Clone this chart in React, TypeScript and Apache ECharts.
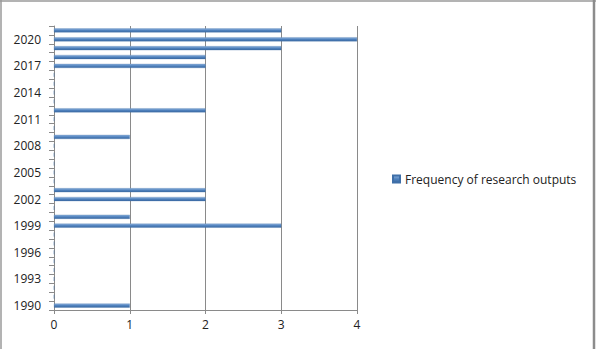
import React, { useEffect, useRef } from "react";
import * as echarts from "echarts";

const years: string[] = [
  "1990","1991","1992","1993","1994","1995","1996","1997","1998","1999",
  "2000","2001","2002","2003","2004","2005","2006","2007","2008","2009",
  "2010","2011","2012","2013","2014","2015","2016","2017","2018","2019",
  "2020","2021",
];
const frequency: number[] = [
  1,0,0,0,0,0,0,0,0,3,
  1,0,2,2,0,0,0,0,0,1,
  0,0,2,0,0,0,0,2,2,3,
  4,3,
];
const xTicks = { min: 0, max: 4, interval: 1 };
const seriesName = "Frequency of research outputs";

export default function App() {
  const ref = useRef<HTMLDivElement>(null);
  useEffect(() => {
    if (!ref.current) return;
    const chart = echarts.init(ref.current, null, { renderer: "svg" });
    const font = "'Open Sans', 'Noto Sans', sans-serif";
    chart.setOption({
      animation: false,
      backgroundColor: "#ffffff",
      textStyle: { fontFamily: font },
      grid: { left: 54, right: 239, top: 26, bottom: 39, containLabel: false },
      legend: {
        data: [seriesName],
        left: 387,
        top: 168,
        itemWidth: 7,
        itemHeight: 7,
        itemGap: 4,
        icon: "rect",
        textStyle: { fontSize: 12, color: "#222", fontFamily: font },
      },
      xAxis: {
        type: "value",
        min: xTicks.min,
        max: xTicks.max,
        interval: xTicks.interval,
        axisLine: { show: true, lineStyle: { color: "#8a8a8a", width: 1 } },
        axisTick: { show: true, length: 4, lineStyle: { color: "#8a8a8a" } },
        axisLabel: { color: "#222", fontSize: 12, margin: 8, fontFamily: font },
        splitLine: { show: true, lineStyle: { color: "#8a8a8a", width: 1 } },
      },
      yAxis: {
        type: "category",
        data: years,
        boundaryGap: true,
        axisLine: { show: true, lineStyle: { color: "#8a8a8a", width: 1 } },
        axisTick: { show: true, length: 5, interval: 0, lineStyle: { color: "#8a8a8a" } },
        axisLabel: { interval: 2, color: "#222", fontSize: 12, margin: 13, padding: [4, 0, 0, 0], fontFamily: font },
        splitLine: { show: false },
      },
      series: [
        {
          name: seriesName,
          type: "bar",
          data: frequency,
          barWidth: 4,
          itemStyle: {
            color: new echarts.graphic.LinearGradient(0, 0, 0, 1, [
              { offset: 0, color: "#8fb3de" },
              { offset: 0.5, color: "#4f81bd" },
              { offset: 1, color: "#3b6aa3" },
            ]),
            borderColor: "#3f6fa8",
            borderWidth: 0.3,
          },
        },
      ],
      graphic: [
        { type: "line", shape: { x1: 0, y1: 1, x2: 596, y2: 1 }, style: { stroke: "#9a9a9a", lineWidth: 1.5 } },
        { type: "line", shape: { x1: 1, y1: 0, x2: 1, y2: 349 }, style: { stroke: "#9a9a9a", lineWidth: 1.5 } },
        { type: "line", shape: { x1: 594, y1: 0, x2: 594, y2: 349 }, style: { stroke: "#8c8c8c", lineWidth: 2.5 } },
      ],
    });
    return () => chart.dispose();
  }, []);
  return (
    <div
      ref={ref}
      style={{ position: "fixed", left: 0, top: 0, width: 596, height: 349 }}
    />
  );
}
